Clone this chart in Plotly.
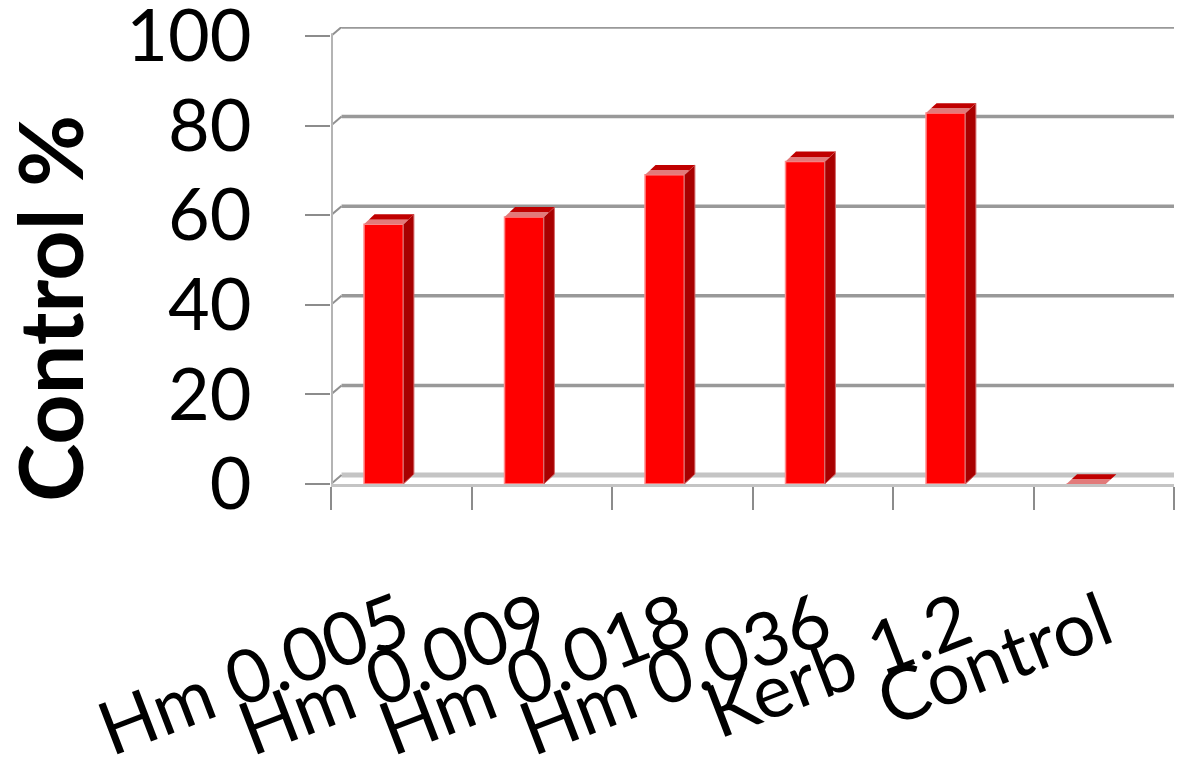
import plotly.graph_objects as go

# ---- data -------------------------------------------------------------
categories = ["Hm 0.005", "Hm 0.009", "Hm 0.018", "Hm 0.036", "Kerb 1.2", "Control"]
control_pct = [58.0, 59.6, 69.0, 72.0, 82.8, 0.0]
y_ticks = [0, 20, 40, 60, 80, 100]

# ---- 3-D styling (axis units) -----------------------------------------
BAR_OFFSET = -0.265     # front face starts this far left of the category centre
BAR_WIDTH = 0.28
DEPTH_X = 0.075         # column depth, horizontal component
DEPTH_Y = 2.2           # column depth, vertical component
WALL_X = 0.075          # back wall offset
WALL_Y = 2.0
X_LEFT, X_RIGHT = -0.5, len(categories) - 0.5

FONT = "Lato"

fig = go.Figure()

# front faces of the columns
fig.add_trace(go.Bar(
    x=categories,
    y=control_pct,
    width=BAR_WIDTH,
    offset=BAR_OFFSET,
    marker=dict(color="#ff0000", line=dict(color="#ff8c8c", width=1.5)),
    hovertemplate="%{x}: %{y}<extra></extra>",
))

shapes = []

# back-wall gridlines with the short diagonal running back from the front axis
for v in y_ticks:
    if v == 0:
        continue
    shapes.append(dict(type="line", xref="x", yref="y", layer="below",
                       x0=X_LEFT + WALL_X, x1=X_RIGHT, y0=v + WALL_Y, y1=v + WALL_Y,
                       line=dict(color="#999999", width=3.5)))
    shapes.append(dict(type="line", xref="x", yref="y", layer="below",
                       x0=X_LEFT, x1=X_LEFT + WALL_X, y0=v, y1=v + WALL_Y,
                       line=dict(color="#909090", width=2)))

# back edge of the floor
shapes.append(dict(type="line", xref="x", yref="y", layer="below",
                   x0=X_LEFT + WALL_X, x1=X_RIGHT, y0=WALL_Y, y1=WALL_Y,
                   line=dict(color="#c4c4c4", width=5)))
shapes.append(dict(type="line", xref="x", yref="y", layer="below",
                   x0=X_LEFT, x1=X_LEFT + WALL_X, y0=0, y1=WALL_Y,
                   line=dict(color="#909090", width=2)))

# front vertical axis line
shapes.append(dict(type="line", xref="x", yref="y", layer="above",
                   x0=X_LEFT, x1=X_LEFT, y0=0, y1=y_ticks[-1] + 0.6,
                   line=dict(color="#b4b4b4", width=4)))


def poly(pts):
    return "M " + " L ".join(f"{px},{py}" for px, py in pts) + " Z"


# side and top faces of each column
for i, v in enumerate(control_pct):
    x0 = i + BAR_OFFSET
    x1 = x0 + BAR_WIDTH
    if v > 0:
        shapes.append(dict(type="path", xref="x", yref="y", layer="above",
                           path=poly([(x1, 0), (x1 + DEPTH_X, DEPTH_Y),
                                      (x1 + DEPTH_X, v + DEPTH_Y), (x1, v)]),
                           fillcolor="#a80000", line=dict(color="#d36a6a", width=1)))
    mid = 0.45
    shapes.append(dict(type="path", xref="x", yref="y", layer="above",
                       path=poly([(x0 + DEPTH_X * mid, v + DEPTH_Y * mid),
                                  (x1 + DEPTH_X * mid, v + DEPTH_Y * mid),
                                  (x1 + DEPTH_X, v + DEPTH_Y), (x0 + DEPTH_X, v + DEPTH_Y)]),
                       fillcolor="#c00000", line=dict(width=0)))
    shapes.append(dict(type="path", xref="x", yref="y", layer="above",
                       path=poly([(x0, v), (x1, v),
                                  (x1 + DEPTH_X * mid, v + DEPTH_Y * mid),
                                  (x0 + DEPTH_X * mid, v + DEPTH_Y * mid)]),
                       fillcolor="#e27a7a", line=dict(width=0)))

fig.update_layout(
    width=1180,
    height=770,
    margin=dict(l=331, r=6, t=27, b=286),
    paper_bgcolor="white",
    plot_bgcolor="white",
    showlegend=False,
    shapes=shapes,
    font=dict(family=FONT, color="black"),
    xaxis=dict(
        range=[X_LEFT, X_RIGHT],
        type="category",
        tickson="boundaries",
        ticks="outside",
        ticklen=23,
        tickwidth=2,
        tickcolor="#8c8c8c",
        showline=True,
        linecolor="#c4c4c4",
        linewidth=3,
        showgrid=False,
        tickangle=-21,
        tickfont=dict(family=FONT, size=74, color="black"),
        ticklabelstandoff=67,
        ticklabeloverflow="allow",
        automargin=False,
    ),
    yaxis=dict(
        range=[0, 102],
        tickvals=y_ticks,
        ticks="outside",
        ticklen=25,
        tickwidth=2,
        tickcolor="#8c8c8c",
        showline=False,
        showgrid=False,
        zeroline=False,
        tickfont=dict(family=FONT, size=72, color="black"),
        ticklabelstandoff=39,
        ticklabeloverflow="allow",
        automargin=False,
    ),
    annotations=[dict(
        text="<b>Control %</b>",
        xref="paper", yref="paper",
        x=(49 - 331) / 843, y=(484 - 309) / 457,
        xanchor="center", yanchor="middle",
        textangle=-90,
        showarrow=False,
        font=dict(family=FONT, size=88, color="black"),
    )],
)

fig.write_html("out.html")
